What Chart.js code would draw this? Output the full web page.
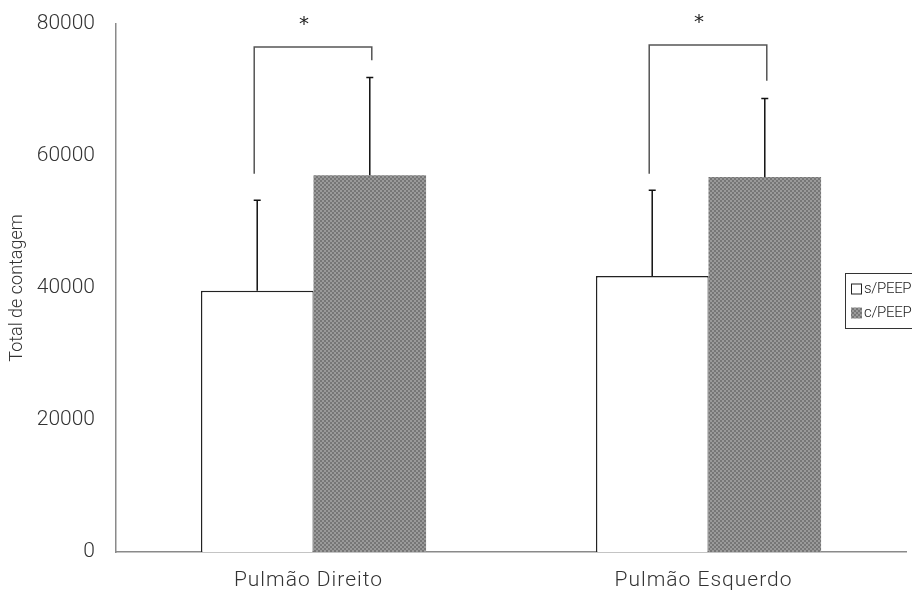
<!DOCTYPE html>
<html>
<head>
<meta charset="utf-8">
<script src="https://cdn.jsdelivr.net/npm/chart.js@4/dist/chart.umd.min.js"></script>
<style>
  html, body { margin: 0; padding: 0; background: #fff; }
  #wrap { width: 912px; height: 595px; }
</style>
</head>
<body>
<div id="wrap"><canvas id="c" width="912" height="595"></canvas></div>
<script>
// Lung count totals, without and with PEEP
const categories = ['Pulmão Direito', 'Pulmão Esquerdo'];
const seriesLabels = ['s/PEEP', 'c/PEEP'];
const semPEEP = [39600, 41800];
const comPEEP = [57100, 56800];
// upper end of the error bars
const semPEEPErrTop = [53300, 54800];
const comPEEPErrTop = [71900, 68700];
// significance brackets: top level, end of left leg, end of right leg
const bracketTop = [76500, 76800];
const bracketLeftEnd = [57300, 57300];
const bracketRightEnd = [74500, 71400];
const bracketMark = ['*', '*'];
const yTicks = [0, 20000, 40000, 60000, 80000];

const FONT = "Roboto, 'Liberation Sans', sans-serif";

// grey dither (2px blocks) used to fill the c/PEEP bars
function makeDither() {
  const p = document.createElement('canvas');
  p.width = 8; p.height = 8;
  const g = p.getContext('2d');
  g.fillStyle = '#9a9a9a';
  g.fillRect(0, 0, 8, 8);
  g.fillStyle = '#767676';
  for (let y = 0; y < 4; y++) {
    for (let x = 0; x < 4; x++) {
      if ((x + y) % 2 === 0) g.fillRect(x * 2, y * 2, 2, 2);
    }
  }
  return p;
}
const ctx0 = document.getElementById('c').getContext('2d');
const dither = ctx0.createPattern(makeDither(), 'repeat');

const errorTops = [semPEEPErrTop, comPEEPErrTop];

// one-sided error bars on top of every bar
const errorBars = {
  id: 'errorBars',
  afterDatasetsDraw(chart) {
    const ctx = chart.ctx;
    const y = chart.scales.y;
    ctx.save();
    ctx.strokeStyle = '#111';
    ctx.lineWidth = 1.5;
    chart.data.datasets.forEach((ds, di) => {
      const meta = chart.getDatasetMeta(di);
      meta.data.forEach((bar, i) => {
        const x = bar.x;
        const y0 = y.getPixelForValue(ds.data[i]);
        const y1 = y.getPixelForValue(errorTops[di][i]);
        ctx.beginPath();
        ctx.moveTo(x, y0);
        ctx.lineTo(x, y1);
        ctx.moveTo(x - 3.5, y1);
        ctx.lineTo(x + 3.5, y1);
        ctx.stroke();
      });
    });
    ctx.restore();
  }
};

// brackets with significance stars between the paired bars
const brackets = {
  id: 'brackets',
  afterDatasetsDraw(chart) {
    const ctx = chart.ctx;
    const y = chart.scales.y;
    const m0 = chart.getDatasetMeta(0), m1 = chart.getDatasetMeta(1);
    ctx.save();
    ctx.strokeStyle = '#555';
    ctx.lineWidth = 1.5;
    categories.forEach((c, i) => {
      const xl = m0.data[i].x - 3;
      const xr = m1.data[i].x + 2;
      const yt = y.getPixelForValue(bracketTop[i]);
      ctx.beginPath();
      ctx.moveTo(xl, y.getPixelForValue(bracketLeftEnd[i]));
      ctx.lineTo(xl, yt);
      ctx.lineTo(xr, yt);
      ctx.lineTo(xr, y.getPixelForValue(bracketRightEnd[i]));
      ctx.stroke();
      ctx.fillStyle = '#222';
      ctx.font = "20px 'DejaVu Sans', sans-serif";
      ctx.textAlign = 'center';
      ctx.textBaseline = 'middle';
      ctx.fillText(bracketMark[i], (xl + xr) / 2 - 9, yt - 22);
    });
    ctx.restore();
  }
};

// boxed legend at the right edge
const boxLegend = {
  id: 'boxLegend',
  afterDraw(chart) {
    const ctx = chart.ctx;
    ctx.save();
    ctx.strokeStyle = '#333';
    ctx.lineWidth = 1;
    ctx.fillStyle = '#fff';
    ctx.fillRect(845.5, 273.5, 80, 55);
    ctx.strokeRect(845.5, 273.5, 80, 55);
    ctx.font = "300 15px " + FONT;
    ctx.letterSpacing = '-0.3px';
    ctx.textBaseline = 'middle';
    ctx.textAlign = 'left';
    chart.data.datasets.forEach((ds, i) => {
      const cy = 289 + i * 24;
      ctx.fillStyle = ds.backgroundColor;
      ctx.fillRect(851, cy - 5.5, 11, 11);
      if (i === 0) {
        ctx.strokeStyle = '#222';
        ctx.strokeRect(851.5, cy - 5, 10, 10);
      }
      ctx.fillStyle = '#222';
      ctx.fillText(ds.label, 864, cy);
    });
    ctx.restore();
  }
};

// wider letter spacing for the category labels
const spacedCategoryLabels = {
  id: 'spacedCategoryLabels',
  afterLayout(chart) {
    const xs = chart.scales.x;
    if (xs._spaced) return;
    const orig = xs.drawLabels.bind(xs);
    xs.drawLabels = function (area) {
      const c = chart.ctx;
      c.save();
      c.letterSpacing = '1px';
      c.translate(-5, 0);
      orig(area);
      c.restore();
    };
    xs._spaced = true;
  }
};

new Chart(ctx0, {
  type: 'bar',
  data: {
    labels: categories,
    datasets: [
      {
        label: seriesLabels[0],
        data: semPEEP,
        backgroundColor: '#ffffff',
        borderColor: '#222',
        borderWidth: { left: 1.5, top: 1.5, right: 1, bottom: 0 },
        borderSkipped: false
      },
      {
        label: seriesLabels[1],
        data: comPEEP,
        backgroundColor: dither,
        borderWidth: 0
      }
    ]
  },
  options: {
    responsive: false,
    animation: false,
    categoryPercentage: 0.57,
    barPercentage: 1.0,
    layout: { padding: { left: 0, right: 6, top: 24, bottom: 0 } },
    plugins: {
      legend: { display: false },
      tooltip: { enabled: false }
    },
    scales: {
      x: {
        grid: { display: false, drawTicks: false },
        border: { color: '#8a8a8a', width: 1.5 },
        ticks: {
          color: '#333',
          font: { family: FONT, size: 21, weight: 300 },
          padding: 16
        },
        afterFit(s) { s.height = 43; s.paddingLeft = 0; s.paddingRight = 0; }
      },
      y: {
        min: 0,
        max: 80000,
        afterBuildTicks(s) { s.ticks = yTicks.map(v => ({ value: v })); },
        grid: { display: false, drawTicks: false },
        border: { color: '#8a8a8a', width: 1.5 },
        ticks: {
          color: '#333',
          font: { family: FONT, size: 21, weight: 300 },
          padding: 21,
          callback: v => String(v)
        },
        title: {
          display: true,
          text: 'Total de contagem',
          color: '#333',
          font: { family: FONT, size: 18, weight: 300 },
          padding: { top: 7, bottom: 0 }
        },
        afterFit(s) { s.width = 116; s.paddingTop = 0; s.paddingBottom = 0; }
      }
    }
  },
  plugins: [errorBars, brackets, boxLegend, spacedCategoryLabels]
});
</script>
</body>
</html>
